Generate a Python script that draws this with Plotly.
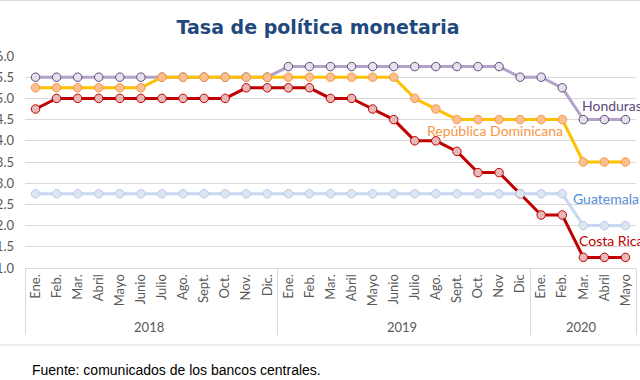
import plotly.graph_objects as go

years = ["2018"] * 12 + ["2019"] * 12 + ["2020"] * 5
months = ["Ene.", "Feb.", "Mar.", "Abril", "Mayo", "Junio", "Julio", "Ago.", "Sept.", "Oct.", "Nov.", "Dic.",
          "Ene.", "Feb.", "Mar.", "Abril", "Mayo", "Junio", "Julio", "Ago.", "Sept.", "Oct.", "Nov", "Dic",
          "Ene.", "Feb.", "Mar.", "Abril", "Mayo"]

costa_rica = [4.75, 5.0, 5.0, 5.0, 5.0, 5.0, 5.0, 5.0, 5.0, 5.0, 5.25, 5.25,
              5.25, 5.25, 5.0, 5.0, 4.75, 4.5, 4.0, 4.0, 3.75, 3.25, 3.25, 2.75,
              2.25, 2.25, 1.25, 1.25, 1.25]
guatemala = [2.75] * 12 + [2.75] * 12 + [2.75, 2.75, 2.0, 2.0, 2.0]
honduras = [5.5] * 12 + [5.75] * 11 + [5.5] + [5.5, 5.25, 4.5, 4.5, 4.5]
rep_dom = [5.25] * 6 + [5.5] * 6 + [5.5] * 6 + [5.0, 4.75, 4.5, 4.5, 4.5, 4.5] + [4.5, 4.5, 3.5, 3.5, 3.5]

series = [
    ("Costa Rica", costa_rica, "#C00000", "#E6B9B8", "#C00000"),
    ("Guatemala", guatemala, "#C6D9F1", "#DCE6F2", "#B9CDE5"),
    ("Honduras", honduras, "#B3A2C7", "#E6E0EC", "#604A7B"),
    ("República Dominicana", rep_dom, "#FFC000", "#FAC090", "#F79646"),
]

fig = go.Figure()
for name, vals, lc, fc, oc in series:
    fig.add_trace(go.Scatter(
        x=[years, months], y=vals, name=name, mode="lines+markers",
        line=dict(color=lc, width=3),
        marker=dict(size=8.5, color=fc, line=dict(color=oc, width=1)),
        showlegend=False, cliponaxis=False,
    ))

L, T, B = 25, 56, 268
PW, PH = 611, B - T

def px(x):
    return (x - L) / PW

def py(y):
    return (B - y) / PH

labels = [
    ("Honduras", 580, 105, "#604A7B"),
    ("República Dominicana", 425, 130, "#F79646"),
    ("Guatemala", 571, 198, "#558ED5"),
    ("Costa Rica", 577, 240, "#C00000"),
]
for text, x, y, c in labels:
    fig.add_annotation(text=text, x=px(x), y=py(y), xref="paper", yref="paper",
                       xanchor="left", yanchor="middle", showarrow=False,
                       font=dict(family="Lato", size=14, color=c))

fig.add_annotation(text="Fuente: comunicados de los bancos centrales.", x=px(30), y=py(370),
                   xref="paper", yref="paper", xanchor="left", yanchor="middle", showarrow=False,
                   font=dict(family="Liberation Sans", size=14, color="#000000"))

fig.add_shape(type="line", xref="paper", yref="paper", x0=px(0), x1=px(640), y0=py(345), y1=py(345),
              line=dict(color="#D9D9D9", width=1))
fig.add_shape(type="line", xref="paper", yref="paper", x0=px(0), x1=px(640), y0=py(0.5), y1=py(0.5),
              line=dict(color="#D9D9D9", width=1))

fig.update_layout(
    width=640, height=380,
    margin=dict(l=L, r=640 - L - PW, t=T, b=380 - B, autoexpand=False),
    paper_bgcolor="white", plot_bgcolor="white",
    title=dict(text="<b>Tasa de política monetaria</b>", x=318 / 640, xref="container", xanchor="center",
               y=1 - 27 / 380, yref="container", yanchor="middle",
               font=dict(family="DejaVu Sans", size=19, color="#1F497D")),
    xaxis=dict(type="multicategory", range=[-0.5, len(months) - 0.5], autorange=False,
               tickangle=-90, showgrid=False, showline=True, linecolor="#D9D9D9",
               showdividers=True, dividercolor="#D9D9D9", dividerwidth=1, ticks="", automargin=False,
               tickfont=dict(family="Lato", size=13, color="#595959")),
    yaxis=dict(range=[1, 6], dtick=0.5, tickformat=".1f", showgrid=True, gridcolor="#D9D9D9",
               zeroline=False, showline=False, ticks="", ticklabelstandoff=10, automargin=False,
               tickfont=dict(family="Lato", size=13, color="#595959")),
)

fig.write_html("out.html", config={"displayModeBar": False},
               post_script="document.body.style.margin='0';document.body.style.overflow='hidden';")
